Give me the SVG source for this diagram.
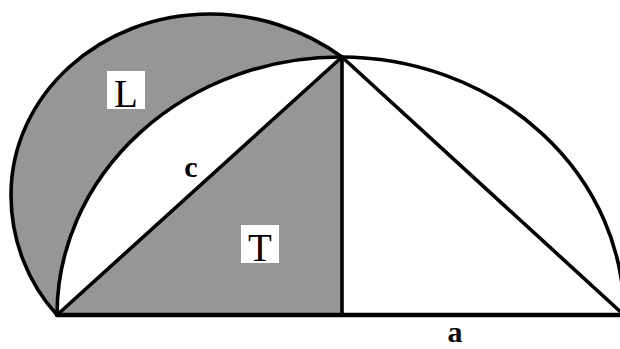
<svg xmlns="http://www.w3.org/2000/svg" width="620" height="349" viewBox="0 0 620 349">
<style>
.fill{fill:#969696;stroke:none}
.ln{fill:none;stroke:#000;stroke-width:3.6;stroke-linecap:round;stroke-linejoin:round}
.box{fill:#fff;stroke:none}
.lbl{font-family:"Liberation Serif","Times New Roman",serif;font-size:39px;fill:#000}
.bl{font-family:"Liberation Serif","Times New Roman",serif;font-size:30px;font-weight:bold;fill:#000}
</style>
<rect width="620" height="349" fill="#fff"/>
<g id="lune">
<path class="fill" d="M57,315 C27,282 11,239.2 11,195 C11,95 100.1,14 210,14 C257.1,14 304.5,29.5 342,57 A283.5,258 0 0 0 57,315 Z"/>
</g>
<g id="triangle">
<polygon class="fill" points="57,315 342,57 342,315"/>
</g>
<g id="connectors">
<path class="ln" d="M57,315 C27,282 11,239.2 11,195 C11,95 100.1,14 210,14 C257.1,14 304.5,29.5 342,57"/>
<path class="ln" d="M57,315 A283.5,258 0 0 1 624,315"/>
<line class="ln" x1="57" y1="315" x2="342" y2="57"/>
<line class="ln" x1="342" y1="57" x2="624" y2="315"/>
<line class="ln" x1="342" y1="57" x2="342" y2="315"/>
<line class="ln" x1="57" y1="315" x2="624" y2="315" style="stroke-width:4.5"/>
</g>
<g id="label-L">
<rect class="box" x="107" y="71" width="38" height="38"/>
<text class="lbl" x="126" y="107" text-anchor="middle">L</text>
</g>
<g id="label-T">
<rect class="box" x="241" y="225" width="38" height="38"/>
<text class="lbl" x="260" y="261" text-anchor="middle">T</text>
</g>
<g id="label-c">
<text class="bl" x="191" y="177" text-anchor="middle">c</text>
</g>
<g id="label-a">
<text class="bl" x="455" y="342" text-anchor="middle">a</text>
</g>
</svg>
